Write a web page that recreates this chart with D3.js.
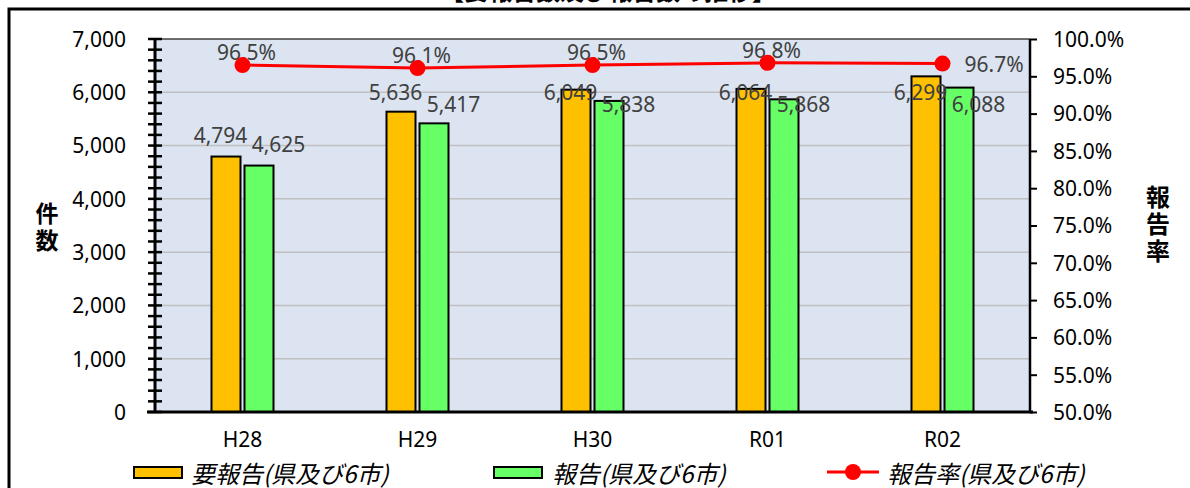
<!DOCTYPE html>
<html>
<head>
<meta charset="utf-8">
<script src="https://cdn.jsdelivr.net/npm/d3@7"></script>
<style>
  body { margin: 0; background: #fff; }
  svg { display: block; font-family: "Noto Sans", "Noto Sans CJK JP", sans-serif; }
  .tick text { font-family: "Noto Sans", sans-serif; font-size: 21px; fill: #000; }
  .lbl { font-size: 21px; fill: #404040; }
  .leg { font-family: "Noto Sans CJK JP", sans-serif; font-size: 24px; font-style: italic; fill: #000; }
  .ttl { font-family: "Noto Sans CJK JP", sans-serif; font-weight: bold; fill: #000; }
  .vert { writing-mode: vertical-rl; }
</style>
</head>
<body>
<svg width="1190" height="488"></svg>
<script>
const categories = ["H28", "H29", "H30", "R01", "R02"]
const required = [4794, 5636, 6049, 6064, 6299]
const reported = [4625, 5417, 5838, 5868, 6088]
const rate = [96.5, 96.1, 96.5, 96.8, 96.7]
const leftTicks = [0, 1000, 2000, 3000, 4000, 5000, 6000, 7000]
const rightTicks = [50, 55, 60, 65, 70, 75, 80, 85, 90, 95, 100]

const svg = d3.select("svg")

// outer frame and clipped title
svg.append("rect")
  .attr("x", 9).attr("y", 9)
  .attr("width", 1200).attr("height", 500)
  .attr("fill", "none").attr("stroke", "#000").attr("stroke-width", 3)

svg.append("text")
  .attr("class", "ttl")
  .attr("x", 608).attr("y", 0)
  .attr("text-anchor", "middle")
  .style("font-size", "24px")
  .text("【要報告数及び報告数の推移】")

const pL = 155, pR = 1030, pT = 39, pB = 412

const x = d3.scaleBand()
  .domain(categories)
  .range([pL, pR])

const y = d3.scaleLinear()
  .domain([0, 7000])
  .range([pB, pT])

const yr = d3.scaleLinear()
  .domain([50, 100])
  .range([pB, pT])

// plot background
svg.append("rect")
  .attr("x", pL).attr("y", pT)
  .attr("width", pR - pL).attr("height", pB - pT)
  .attr("fill", "#dbe4f0")

svg.append("line")
  .attr("x1", pL).attr("x2", pR)
  .attr("y1", pT).attr("y2", pT)
  .attr("stroke", "#404040").attr("stroke-width", 1.5)

// gridlines
svg.append("g")
  .selectAll("line")
  .data(leftTicks.slice(1, -1))
  .enter().append("line")
  .attr("x1", pL).attr("x2", pR)
  .attr("y1", d => y(d)).attr("y2", d => y(d))
  .attr("stroke", "#c0c0c0").attr("stroke-width", 1.5)

// bars
const bw = 29
const groups = svg.selectAll("g.cat")
  .data(categories)
  .enter().append("g")
  .attr("class", "cat")
  .attr("transform", d => `translate(${x(d) + x.bandwidth() / 2}, 0)`)

groups.append("rect")
  .attr("x", -bw - 2)
  .attr("y", (d, i) => y(required[i]))
  .attr("width", bw)
  .attr("height", (d, i) => pB - y(required[i]))
  .attr("fill", "#ffc000").attr("stroke", "#000").attr("stroke-width", 2)

groups.append("rect")
  .attr("x", 2)
  .attr("y", (d, i) => y(reported[i]))
  .attr("width", bw)
  .attr("height", (d, i) => pB - y(reported[i]))
  .attr("fill", "#66ff66").attr("stroke", "#000").attr("stroke-width", 2)

// line
const lineGen = d3.line()
  .x((d, i) => x(categories[i]) + x.bandwidth() / 2)
  .y(d => yr(d))

svg.append("path")
  .datum(rate)
  .attr("d", lineGen)
  .attr("fill", "none").attr("stroke", "#ff0000").attr("stroke-width", 3)

svg.selectAll("circle.rate")
  .data(rate)
  .enter().append("circle")
  .attr("class", "rate")
  .attr("cx", (d, i) => x(categories[i]) + x.bandwidth() / 2)
  .attr("cy", d => yr(d))
  .attr("r", 8)
  .attr("fill", "#ff0000")

// axes
const yAxis = svg.append("g")
  .attr("transform", `translate(${pL},0)`)
  .call(d3.axisLeft(y).tickValues(leftTicks).tickSize(0).tickPadding(29).tickFormat(d3.format(",")))
yAxis.select(".domain").remove()
yAxis.selectAll(".tick text").attr("dy", "0.35em")

svg.append("g")
  .selectAll("line")
  .data(d3.range(0, 7001, 200))
  .enter().append("line")
  .attr("x1", pL - 7).attr("x2", pL + 7)
  .attr("y1", d => y(d)).attr("y2", d => y(d))
  .attr("stroke", "#000").attr("stroke-width", 2.5)

svg.append("line")
  .attr("x1", pL).attr("x2", pL)
  .attr("y1", pT - 1).attr("y2", pB)
  .attr("stroke", "#000").attr("stroke-width", 3)

const yrAxis = svg.append("g")
  .attr("transform", `translate(${pR},0)`)
  .call(d3.axisRight(yr).tickValues(rightTicks).tickSize(7).tickPadding(16).tickFormat(d => d.toFixed(1) + "%"))
yrAxis.select(".domain").remove()
yrAxis.selectAll(".tick line").attr("stroke", "#000").attr("stroke-width", 2)
yrAxis.selectAll(".tick text").attr("dy", "0.35em")

svg.append("line")
  .attr("x1", pR).attr("x2", pR)
  .attr("y1", pT).attr("y2", pB)
  .attr("stroke", "#000").attr("stroke-width", 2.5)

svg.append("line")
  .attr("x1", pL - 8).attr("x2", pR + 3)
  .attr("y1", pB).attr("y2", pB)
  .attr("stroke", "#000").attr("stroke-width", 3)

const xAxis = svg.append("g")
  .attr("transform", `translate(0,${pB})`)
  .call(d3.axisBottom(x).tickSize(0).tickPadding(20))
xAxis.select(".domain").remove()

// value labels
groups.append("text")
  .attr("class", "lbl")
  .attr("x", -22)
  .attr("y", (d, i) => Math.max(y(required[i]) - 14, 100))
  .attr("text-anchor", "middle")
  .text((d, i) => d3.format(",")(required[i]))

groups.append("text")
  .attr("class", "lbl")
  .attr("x", 36)
  .attr("y", (d, i) => Math.max(y(reported[i]) - 14, 112))
  .attr("text-anchor", "middle")
  .text((d, i) => d3.format(",")(reported[i]))

groups.append("text")
  .attr("class", "lbl")
  .attr("x", (d, i) => i === rate.length - 1 ? 22 : 4)
  .attr("y", (d, i) => i === rate.length - 1 ? yr(rate[i]) + 8 : yr(rate[i]) - 5)
  .attr("text-anchor", (d, i) => i === rate.length - 1 ? "start" : "middle")
  .text((d, i) => rate[i].toFixed(1) + "%")

// axis titles (vertical)
svg.append("text")
  .attr("class", "ttl vert")
  .attr("x", 47).attr("y", 202)
  .style("font-size", "23px")
  .style("letter-spacing", "4px")
  .text("件数")

svg.append("text")
  .attr("class", "ttl vert")
  .attr("x", 1158).attr("y", 185)
  .style("font-size", "24px")
  .style("letter-spacing", "3px")
  .text("報告率")

// legend
const legend = svg.append("g").attr("transform", "translate(0,472)")

legend.append("rect")
  .attr("x", 134).attr("y", -5).attr("width", 48).attr("height", 11)
  .attr("fill", "#ffc000").attr("stroke", "#000").attr("stroke-width", 2)
legend.append("text").attr("class", "leg")
  .attr("x", 191).attr("y", 0).attr("dominant-baseline", "central")
  .text("要報告(県及び6市)")

legend.append("rect")
  .attr("x", 494).attr("y", -5).attr("width", 48).attr("height", 11)
  .attr("fill", "#66ff66").attr("stroke", "#000").attr("stroke-width", 2)
legend.append("text").attr("class", "leg")
  .attr("x", 552).attr("y", 0).attr("dominant-baseline", "central")
  .text("報告(県及び6市)")

legend.append("line")
  .attr("x1", 827).attr("x2", 879).attr("y1", 0).attr("y2", 0)
  .attr("stroke", "#ff0000").attr("stroke-width", 3)
legend.append("circle")
  .attr("cx", 853).attr("cy", 0).attr("r", 8).attr("fill", "#ff0000")
legend.append("text").attr("class", "leg")
  .attr("x", 887).attr("y", 0).attr("dominant-baseline", "central")
  .text("報告率(県及び6市)")
</script>
</body>
</html>
